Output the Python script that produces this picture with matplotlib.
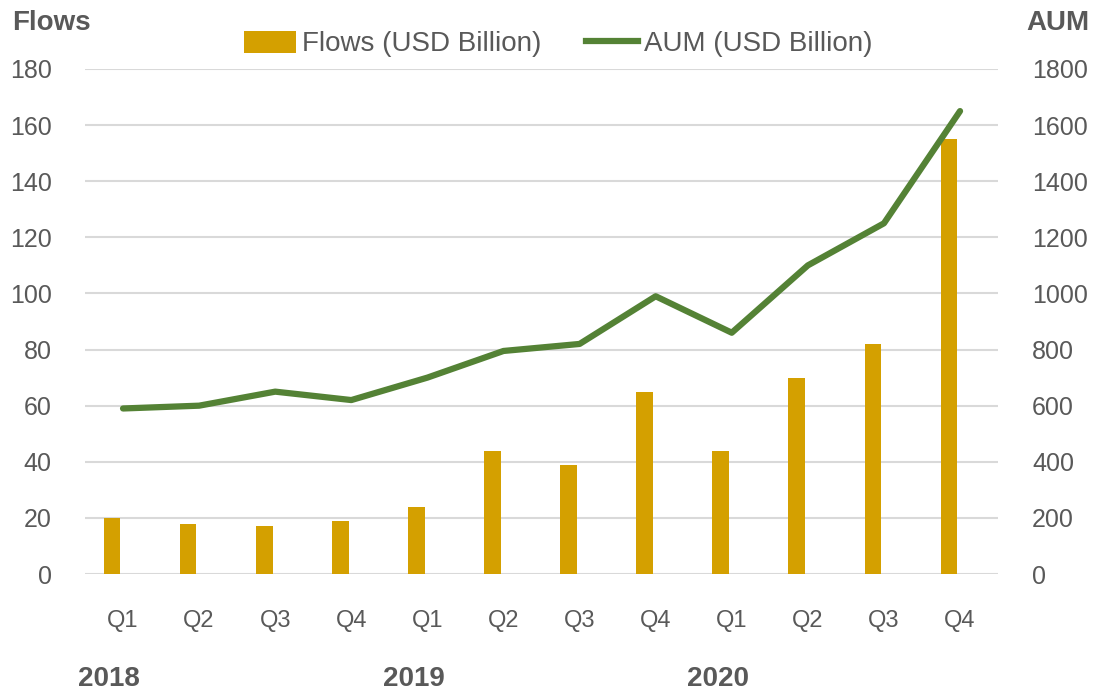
import matplotlib
matplotlib.use("Agg")
import matplotlib.pyplot as plt
from matplotlib.lines import Line2D
from matplotlib.patches import Patch

plt.rcParams['font.family'] = ['Liberation Sans', 'DejaVu Sans']

quarters = ["Q1", "Q2", "Q3", "Q4"] * 3
years = ["2018", "2019", "2020"]
flows = [20, 18, 17, 19, 24, 44, 39, 65, 44, 70, 82, 155]
aum = [590, 600, 650, 620, 700, 795, 820, 990, 860, 1100, 1250, 1650]

bar_color = "#D4A000"
line_color = "#548235"
text_color = "#595959"
grid_color = "#D9D9D9"

fig = plt.figure(figsize=(10.98, 6.92), dpi=100)
ax = fig.add_axes([0.0774, 0.1705, 0.8316, 0.7298])
ax2 = ax.twinx()

x = list(range(len(flows)))
bar_x = [i - 0.145 for i in x]
ax.bar(bar_x, flows, width=0.22, color=bar_color, zorder=3)
ax2.plot(x, aum, color=line_color, linewidth=4.5, solid_capstyle='round',
         solid_joinstyle='round', zorder=4)

ax.set_xlim(-0.5, len(flows) - 0.5)
ax.set_ylim(0, 180)
ax2.set_ylim(0, 1800)
ax.set_yticks(range(0, 181, 20))
ax2.set_yticks(range(0, 1801, 200))

ax.yaxis.grid(True, color=grid_color, linewidth=1.5, zorder=0)
ax.set_axisbelow(True)
for a in (ax, ax2):
    for s in a.spines.values():
        s.set_visible(False)
ax.axhline(0, color=grid_color, linewidth=2, zorder=2)

ax.set_xticks(x)
ax.set_xticklabels(quarters)
ax.tick_params(axis='x', length=0, pad=26, labelsize=17, labelcolor=text_color)
ax.tick_params(axis='y', length=0, pad=24, labelsize=18, labelcolor=text_color)
ax2.tick_params(axis='y', length=0, pad=24.5, labelsize=18, labelcolor=text_color)

for i, yr in enumerate(years):
    ax.text(i * 4 - 0.18, -0.208, yr, transform=ax.get_xaxis_transform(),
            ha='center', va='center', fontsize=20, fontweight='bold', color=text_color)

fig.text(12 / 1098, 1 - 23 / 692, "Flows", ha='left', va='center',
         fontsize=20, fontweight='bold', color=text_color)
fig.text(1089 / 1098, 1 - 23 / 692, "AUM", ha='right', va='center',
         fontsize=20, fontweight='bold', color=text_color)

handles = [Patch(facecolor=bar_color, edgecolor='none'),
           Line2D([0], [0], color=line_color, linewidth=4.5)]
leg = fig.legend(handles, ["Flows (USD Billion)", "AUM (USD Billion)"],
                 loc='center', bbox_to_anchor=(558 / 1098, 1 - 44 / 692),
                 ncol=2, frameon=False, fontsize=20, handlelength=1.9,
                 handletextpad=0.2, columnspacing=1.6, handleheight=0.83,
                 borderpad=0.2)
for t in leg.get_texts():
    t.set_color(text_color)

fig.savefig("out.png", dpi=100)
